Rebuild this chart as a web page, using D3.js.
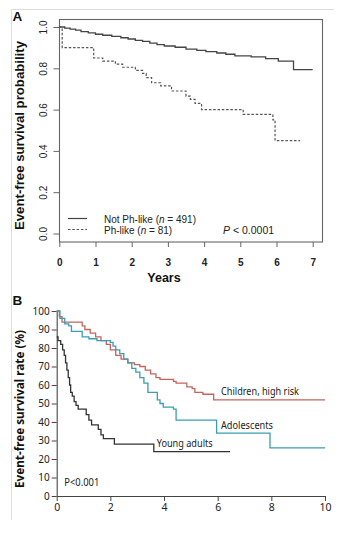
<!DOCTYPE html>
<html><head><meta charset="utf-8">
<script src="https://cdn.jsdelivr.net/npm/d3@7/dist/d3.min.js"></script>
<style>html,body{margin:0;padding:0;background:#fff}svg{display:block}</style>
</head><body>
<script>
// ---------- Panel A data ----------
const yearsTicksA = [0,1,2,3,4,5,6,7];
const probTicksA = [0,0.2,0.4,0.6,0.8,1.0];
const notPhTimes = [0,0.15,0.3,0.45,0.6,0.8,1.0,1.2,1.45,1.7,1.9,2.1,2.3,2.5,2.7,2.9,3.2,3.5,3.8,4.05,4.35,4.6,4.85,5.3,5.7,6.05,6.47,7.0];
const notPhSurv  = [1.0,0.995,0.99,0.985,0.978,0.972,0.965,0.96,0.955,0.948,0.942,0.935,0.93,0.922,0.915,0.908,0.902,0.893,0.887,0.881,0.874,0.868,0.86,0.855,0.847,0.835,0.794,0.794];
const phTimes = [0,0.08,0.95,1.2,1.55,1.75,2.1,2.3,2.4,2.55,2.8,3.1,3.5,3.62,3.75,3.93,5.08,5.9,5.96,6.65];
const phSurv  = [1.0,0.90,0.85,0.835,0.82,0.805,0.79,0.775,0.755,0.73,0.715,0.69,0.665,0.65,0.63,0.60,0.577,0.55,0.45,0.45];
const legendA = ["Not Ph-like (", "n", " = 491)", "Ph-like (", "n", " = 81)"];

// ---------- Panel B data ----------
const yearTicksB = [0,2,4,6,8,10];
const rateTicksB = [0,10,20,30,40,50,60,70,80,90,100];
const childT = [0,0.1,0.2,0.95,1.05,1.25,1.45,1.65,1.85,2.0,2.2,2.4,2.65,2.9,3.1,3.3,3.5,3.7,3.85,4.35,4.45,4.85,5.05,5.15,5.45,5.85,10];
const childV = [100,97,94,92,90,88,86,84,82,79,76,74,72,71,70,68,66,64,63,62,61,59,58,56,55,52,52];
const adolT = [0,0.12,0.3,0.45,0.55,0.95,1.2,1.5,2.0,2.1,2.2,2.35,2.5,2.65,2.8,2.95,3.1,3.25,3.4,3.75,3.85,3.97,4.35,4.45,5.96,7.95,10];
const adolV = [100,96,93,92,89,86,85,84,83,81,79,77,74,72,69,67,64,61,56,52,50,48,47,41,34,26,26];
const youngT = [0,0.05,0.15,0.22,0.28,0.33,0.38,0.43,0.48,0.52,0.58,0.65,0.72,0.8,1.1,1.2,1.3,1.55,1.65,1.74,2.15,3.62,6.46];
const youngV = [86,84,82,79,76,72,68,64,60,56,54,51,49,47,44,41,38.5,36,33,31,28,24,24];
const groupLabels = ["Children, high risk","Adolescents","Young adults"];

const W = 355, H = 550;
const svg = d3.select("body").append("svg").attr("width",W).attr("height",H);
svg.append("rect").attr("width",W).attr("height",H).attr("fill","#fff");

// faint scan frame
svg.append("line").attr("x1",12).attr("x2",334).attr("y1",9.5).attr("y2",9.5).attr("stroke","#dcdcdc").attr("stroke-width",1);
svg.append("line").attr("x1",11.5).attr("x2",11.5).attr("y1",9.5).attr("y2",520).attr("stroke","#dcdcdc").attr("stroke-width",1);

// ================= Panel A =================
const fA = "'Liberation Sans', Arial, sans-serif";
const xA = d3.scaleLinear().domain([0,7]).range([59.3,312.7]);
const yA = d3.scaleLinear().domain([0,1]).range([233.5,27]);
const gA = svg.append("g");

gA.append("rect").attr("x",59.5).attr("y",19.5).attr("width",263).attr("height",222.5)
  .attr("fill","none").attr("stroke","#666").attr("stroke-width",1.1);

const axA = gA.append("g").attr("transform","translate(0,242)")
  .call(d3.axisBottom(xA).tickValues(yearsTicksA).tickFormat(d3.format("d")).tickSize(5).tickPadding(12).tickSizeOuter(0));
axA.select(".domain").remove();
axA.selectAll("line").attr("stroke","#666");
axA.selectAll("text").attr("font-family",fA).attr("font-size",10).attr("fill","#222").attr("font-weight","bold");

const ayA = gA.append("g").attr("transform","translate(59.5,0)")
  .call(d3.axisLeft(yA).tickValues(probTicksA).tickFormat(d3.format(".1f")).tickSize(6).tickSizeOuter(0));
ayA.select(".domain").remove();
ayA.selectAll("line").attr("stroke","#666");
ayA.selectAll("text").attr("font-family",fA).attr("font-size",10).attr("fill","#222")
  .attr("x",0).attr("dy",0).attr("text-anchor","middle").attr("transform","translate(-13,0) rotate(-90)");

const lineA = d3.line().x((d,i)=>xA(d[0])).y(d=>yA(d[1])).curve(d3.curveStepAfter);
gA.append("path").datum(d3.zip(notPhTimes,notPhSurv)).attr("d",lineA)
  .attr("fill","none").attr("stroke","#444").attr("stroke-width",1.3);
gA.append("path").datum(d3.zip(phTimes,phSurv)).attr("d",lineA)
  .attr("fill","none").attr("stroke","#555").attr("stroke-width",1.2).attr("stroke-dasharray","2.5,1.8");

// legend
gA.append("line").attr("x1",68).attr("x2",87).attr("y1",218.5).attr("y2",218.5).attr("stroke","#444").attr("stroke-width",1.2);
gA.append("line").attr("x1",68).attr("x2",87).attr("y1",229.5).attr("y2",229.5).attr("stroke","#555").attr("stroke-width",1.1).attr("stroke-dasharray","2.5,1.8");
function legText(y, parts){
  const t = gA.append("text").attr("x",104).attr("y",y).attr("font-family",fA).attr("font-size",10).attr("fill","#222");
  t.append("tspan").text(parts[0]);
  t.append("tspan").attr("font-style","italic").text(parts[1]);
  t.append("tspan").text(parts[2]);
}
legText(222.5, legendA.slice(0,3));
legText(233.5, legendA.slice(3,6));
const pA = gA.append("text").attr("x",223).attr("y",233.5).attr("font-family",fA).attr("font-size",10.5).attr("fill","#222");
pA.append("tspan").attr("font-style","italic").text("P");
pA.append("tspan").text(" <  0.0001");

gA.append("text").attr("x",164).attr("y",282).attr("text-anchor","middle").attr("font-family",fA)
  .attr("font-weight","bold").attr("font-size",12.5).attr("fill","#111").text("Years");
gA.append("text").attr("transform","translate(24,135.5) rotate(-90)").attr("text-anchor","middle")
  .attr("font-family",fA).attr("font-weight","bold").attr("font-size",12.5).attr("fill","#111")
  .attr("textLength",189).attr("lengthAdjust","spacingAndGlyphs").text("Event-free survival probability");
gA.append("text").attr("x",12.5).attr("y",20.8).attr("font-family",fA).attr("font-weight","bold")
  .attr("font-size",13.5).attr("fill","#111").text("A");

// ================= Panel B =================
const fB = "'Noto Sans', 'Open Sans', sans-serif";
const xB = d3.scaleLinear().domain([0,10]).range([56.7,325]);
const yB = d3.scaleLinear().domain([0,100]).range([496,311]);
const gB = svg.append("g");

const axB = gB.append("g").attr("transform","translate(0,496)")
  .call(d3.axisBottom(xB).tickValues(yearTicksB).tickFormat(d3.format("d")).tickSize(5).tickPadding(3).tickSizeOuter(0));
axB.select(".domain").attr("stroke","#444").attr("stroke-width",1.1);
axB.selectAll("line").attr("stroke","#444");
axB.selectAll("text").attr("font-family",fB).attr("font-size",10.5).attr("fill","#222");

const ayB = gB.append("g").attr("transform","translate(56.7,0)")
  .call(d3.axisLeft(yB).tickValues(rateTicksB).tickFormat(d3.format("d")).tickSize(5).tickPadding(2).tickSizeOuter(0));
ayB.select(".domain").attr("stroke","#444").attr("stroke-width",1.1);
ayB.selectAll("line").attr("stroke","#444");
ayB.selectAll("text").attr("font-family",fB).attr("font-size",10).attr("fill","#222");

const lineB = d3.line().x(d=>xB(d[0])).y(d=>yB(d[1])).curve(d3.curveStepAfter);
gB.append("path").datum(d3.zip(childT,childV)).attr("d",lineB)
  .attr("fill","none").attr("stroke","#c4645c").attr("stroke-width",1.3);
gB.append("path").datum(d3.zip(adolT,adolV)).attr("d",lineB)
  .attr("fill","none").attr("stroke","#3a9db0").attr("stroke-width",1.3);
gB.append("path").datum(d3.zip(youngT,youngV)).attr("d",lineB)
  .attr("fill","none").attr("stroke","#333").attr("stroke-width",1.3);

const labPos = [[221,395,78],[221,428.5,52],[156.7,446.7,56]];
groupLabels.forEach((s,i)=>{
  gB.append("text").attr("x",labPos[i][0]).attr("y",labPos[i][1]).attr("font-family",fB)
    .attr("font-size",11).attr("fill","#222").attr("textLength",labPos[i][2]).attr("lengthAdjust","spacingAndGlyphs").text(s);
});
gB.append("text").attr("x",64.3).attr("y",486).attr("font-family",fB).attr("font-size",10.5).attr("fill","#222")
  .attr("textLength",35).attr("lengthAdjust","spacingAndGlyphs").text("P<0.001");

gB.append("text").attr("transform","translate(23.5,409) rotate(-90)").attr("text-anchor","middle")
  .attr("font-family",fB).attr("font-weight","bold").attr("font-size",13).attr("fill","#111")
  .attr("textLength",158).attr("lengthAdjust","spacingAndGlyphs").text("Event-free survival rate (%)");
gB.append("text").attr("x",12.5).attr("y",305).attr("font-family",fA).attr("font-weight","bold")
  .attr("font-size",13.5).attr("fill","#111").text("B");
</script>
</body></html>
